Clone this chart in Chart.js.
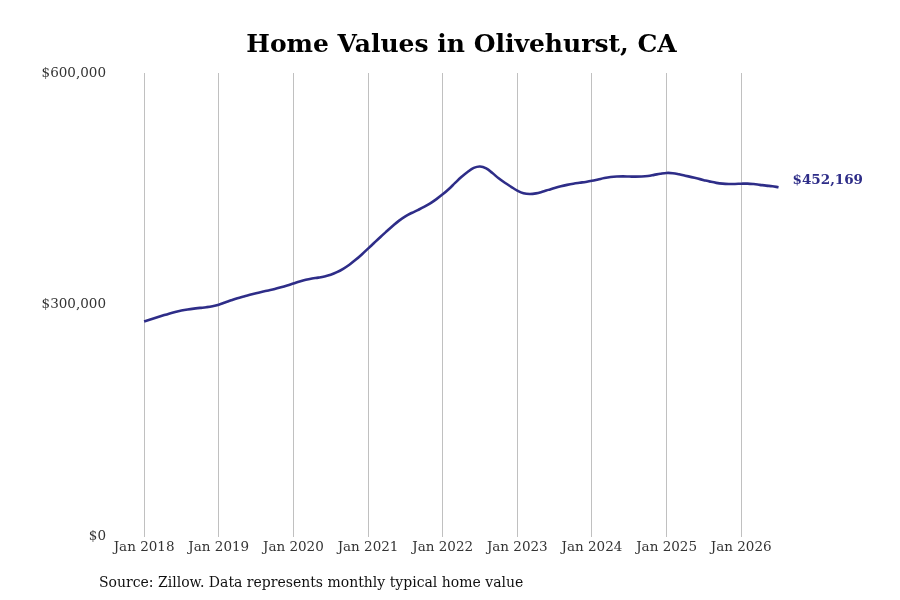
<!DOCTYPE html>
<html>
<head>
<meta charset="utf-8">
<script src="https://cdn.jsdelivr.net/npm/chart.js@4.4.1/dist/chart.umd.min.js"></script>
<style>
  html, body { margin: 0; padding: 0; background: #fff; }
  #wrap { position: relative; width: 900px; height: 600px; }
  #title { position: absolute; left: 0; top: 29px; width: 923px; text-align: center; font-family: "DejaVu Serif"; font-weight: bold; font-size: 25px; line-height: 30px; color: #000; }
  #source { position: absolute; left: 99px; top: 573px; font-family: "DejaVu Serif"; font-size: 14px; line-height: 18px; color: #111; }
  canvas { position: absolute; left: 0; top: 0; }
</style>
</head>
<body>
<div id="wrap">
  <canvas id="c" width="900" height="600"></canvas>
  <div id="title">Home Values in Olivehurst, CA</div>
  <div id="source">Source: Zillow. Data represents monthly typical home value</div>
</div>
<script>
const startYear = 2018;
// monthly index from Jan 2018
const months = [];
for (let i = 0; i <= 102; i++) months.push(i);
const values = [
  278500, 281000, 283600, 286200, 288700, 290900, 292700, 294100, 295200, 296100, 297000, 298300,
  300300, 303100, 306000, 308700, 311000, 313200, 315200, 317000, 318700, 320500, 322700, 325100,
  327700, 330300, 332500, 334100, 335300, 336800, 339000, 342300, 346700, 352000, 358300, 365300,
  372800, 380400, 387900, 395200, 402400, 409000, 414500, 418900, 422700, 426700, 431400, 436900,
  443000, 450000, 457800, 465400, 472000, 477200, 479000, 476500, 470500, 463800, 458000, 452800,
  447900, 444500, 443500, 444300, 446300, 448800, 451300, 453500, 455300, 456800, 458000, 459100,
  460500, 462300, 464100, 465400, 466100, 466300, 466100, 465900, 466100, 466800, 468200, 469700,
  470700, 470400, 469000, 467200, 465300, 463400, 461400, 459500, 457900, 456900, 456500, 456500,
  456800, 456900, 456300, 455300, 454300, 453500, 452169
];
const xTicks = [0, 12, 24, 36, 48, 60, 72, 84, 96];
const yTicks = [0, 300000, 600000];
const lineColor = '#2e2d88';

const fmt = v => '$' + Math.round(v).toLocaleString('en-US');

const lastLabel = {
  id: 'lastLabel',
  afterDatasetsDraw(chart) {
    const meta = chart.getDatasetMeta(0);
    const pt = meta.data[meta.data.length - 1];
    const ctx = chart.ctx;
    ctx.save();
    ctx.font = 'bold 13.5px "DejaVu Serif"';
    ctx.fillStyle = lineColor;
    ctx.textAlign = 'left';
    ctx.textBaseline = 'middle';
    ctx.fillText(fmt(values[values.length - 1]), pt.x + 14, pt.y - 7);
    ctx.restore();
  }
};

new Chart(document.getElementById('c'), {
  type: 'line',
  data: {
    datasets: [{
      data: months.map((m, i) => ({ x: m, y: values[i] })),
      borderColor: lineColor,
      borderWidth: 2.6,
      pointRadius: 0,
      tension: 0.4,
      fill: false
    }]
  },
  options: {
    responsive: false,
    animation: false,
    layout: { padding: { left: 42, right: 109, top: 73, bottom: 41 } },
    plugins: {
      legend: { display: false },
      tooltip: { enabled: false },
      title: { display: false }
    },
    scales: {
      x: {
        type: 'linear',
        min: -5,
        max: 104,
        afterBuildTicks: s => { s.ticks = xTicks.map(v => ({ value: v })); },
        grid: { display: true, color: '#c0c0c0', lineWidth: 1, drawTicks: false },
        border: { display: false },
        ticks: {
          padding: 3,
          color: '#333',
          font: { family: 'DejaVu Serif', size: 13.5 },
          maxRotation: 0,
          autoSkip: false,
          callback: v => 'Jan ' + (startYear + v / 12)
        }
      },
      y: {
        min: 0,
        max: 600000,
        afterBuildTicks: s => { s.ticks = yTicks.map(v => ({ value: v })); },
        afterFit: s => { s.width = 71; },
        grid: { display: false, drawTicks: false },
        border: { display: false },
        ticks: {
          padding: 7,
          color: '#333',
          font: { family: 'DejaVu Serif', size: 13.5 },
          callback: v => fmt(v)
        }
      }
    }
  },
  plugins: [lastLabel]
});
</script>
</body>
</html>
